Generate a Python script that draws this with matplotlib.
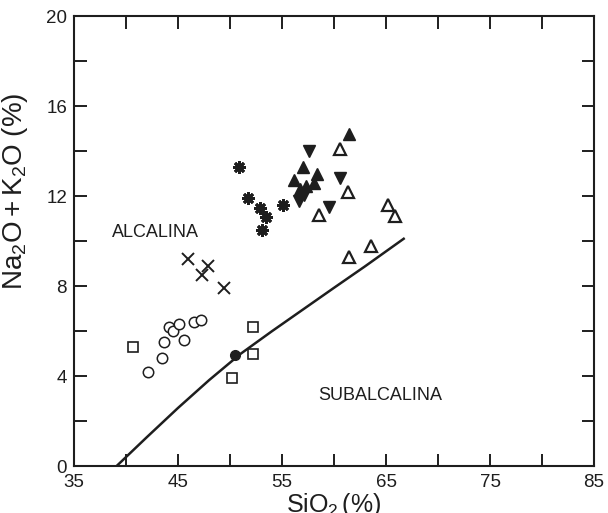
import numpy as np
import matplotlib.pyplot as plt
from matplotlib.ticker import FixedLocator, MultipleLocator

plt.rcParams['font.family'] = ['Liberation Sans', 'DejaVu Sans']
plt.rcParams['mathtext.fontset'] = 'custom'
plt.rcParams['mathtext.rm'] = 'Liberation Sans'
plt.rcParams['mathtext.it'] = 'Liberation Sans:italic'

# ---- data (SiO2 %, Na2O+K2O %) ----
circ_x = [42.1, 43.5, 43.7, 44.1, 44.5, 45.1, 45.6, 46.5, 47.2]
circ_y = [4.2, 4.8, 5.5, 6.2, 6.0, 6.3, 5.6, 6.4, 6.5]

sq_x = [40.7, 52.2, 52.2, 50.2]
sq_y = [5.3, 6.2, 5.0, 3.9]

dot_x = [50.45]
dot_y = [4.95]

cross_x = [46.0, 47.9, 47.3, 49.4]
cross_y = [9.2, 8.9, 8.5, 7.9]

ast_x = [50.9, 51.7, 52.9, 53.5, 53.1, 55.1]
ast_y = [13.3, 11.9, 11.45, 11.05, 10.5, 11.6]

tri_up_x = [61.4, 57.0, 58.4, 56.15, 56.7, 57.3, 58.1]
tri_up_y = [14.75, 13.3, 13.0, 12.7, 12.3, 12.45, 12.6]

tri_dn_x = [57.6, 60.6, 59.55, 56.6, 57.1]
tri_dn_y = [14.0, 12.8, 11.5, 11.8, 12.05]

open_tri_x = [60.6, 61.3, 58.6, 65.2, 65.9, 63.6, 61.4]
open_tri_y = [14.1, 12.2, 11.15, 11.6, 11.1, 9.8, 9.3]

# alkaline / subalkaline boundary
line_x = [39.1, 42.0, 45.0, 48.0, 51.0, 54.0, 57.0, 60.0, 63.0, 66.7]
line_y = [0.0, 1.28, 2.58, 3.82, 4.98, 5.98, 6.95, 7.92, 8.88, 10.1]

x_ticks = [35, 45, 55, 65, 75, 85]

ink = '#1e1e1e'

fig = plt.figure(figsize=(6.08, 5.13), dpi=100)
ax = fig.add_axes([0.1217, 0.0916, 0.8553, 0.8772])

ax.plot(line_x, line_y, color=ink, lw=1.8)

ax.plot(circ_x, circ_y, 'o', ms=7.5, mfc='white', mec=ink, mew=1.1, ls='none')
ax.plot(sq_x, sq_y, 's', ms=7.5, mfc='white', mec=ink, mew=1.2, ls='none')
ax.plot(dot_x, dot_y, 'o', ms=7, mfc=ink, mec=ink, ls='none')
ax.plot(cross_x, cross_y, 'x', ms=9, mec=ink, mew=1.4, ls='none')
ax.plot(ast_x, ast_y, marker=(8, 2, 0), ms=9, mec=ink, mew=2.0, ls='none')
ax.plot(open_tri_x, open_tri_y, '^', ms=8.5, mfc='white', mec=ink, mew=1.6, ls='none')
ax.plot(tri_up_x, tri_up_y, '^', ms=9, mfc=ink, mec=ink, ls='none')
ax.plot(tri_dn_x, tri_dn_y, 'v', ms=9, mfc=ink, mec=ink, ls='none')

ax.text(42.8, 10.4, 'ALCALINA', fontsize=13, color=ink, ha='center', va='center')
ax.text(64.4, 3.15, 'SUBALCALINA', fontsize=13, color=ink, ha='center', va='center')

ax.set_xlim(35, 85)
ax.set_ylim(0, 20)
ax.xaxis.set_major_locator(FixedLocator(x_ticks))
ax.xaxis.set_minor_locator(MultipleLocator(5))
ax.yaxis.set_major_locator(MultipleLocator(4))
ax.yaxis.set_minor_locator(MultipleLocator(2))
ax.tick_params(which='both', direction='in', top=True, right=True,
               length=9, width=1.4, color=ink, labelsize=13.5, labelcolor=ink)
ax.tick_params(axis='x', pad=6)
ax.tick_params(axis='y', pad=5)
for s in ax.spines.values():
    s.set_linewidth(1.5)
    s.set_color(ink)

ax.set_xlabel(r'$\mathrm{SiO_2\,(\%)}$', fontsize=18, color=ink, labelpad=0)
ax.set_ylabel(r'$\mathrm{Na_2O+K_2O\ (\%)}$', fontsize=20, color=ink)
ax.yaxis.set_label_coords(-0.085, 0.61)

fig.savefig('out.png', dpi=100)
